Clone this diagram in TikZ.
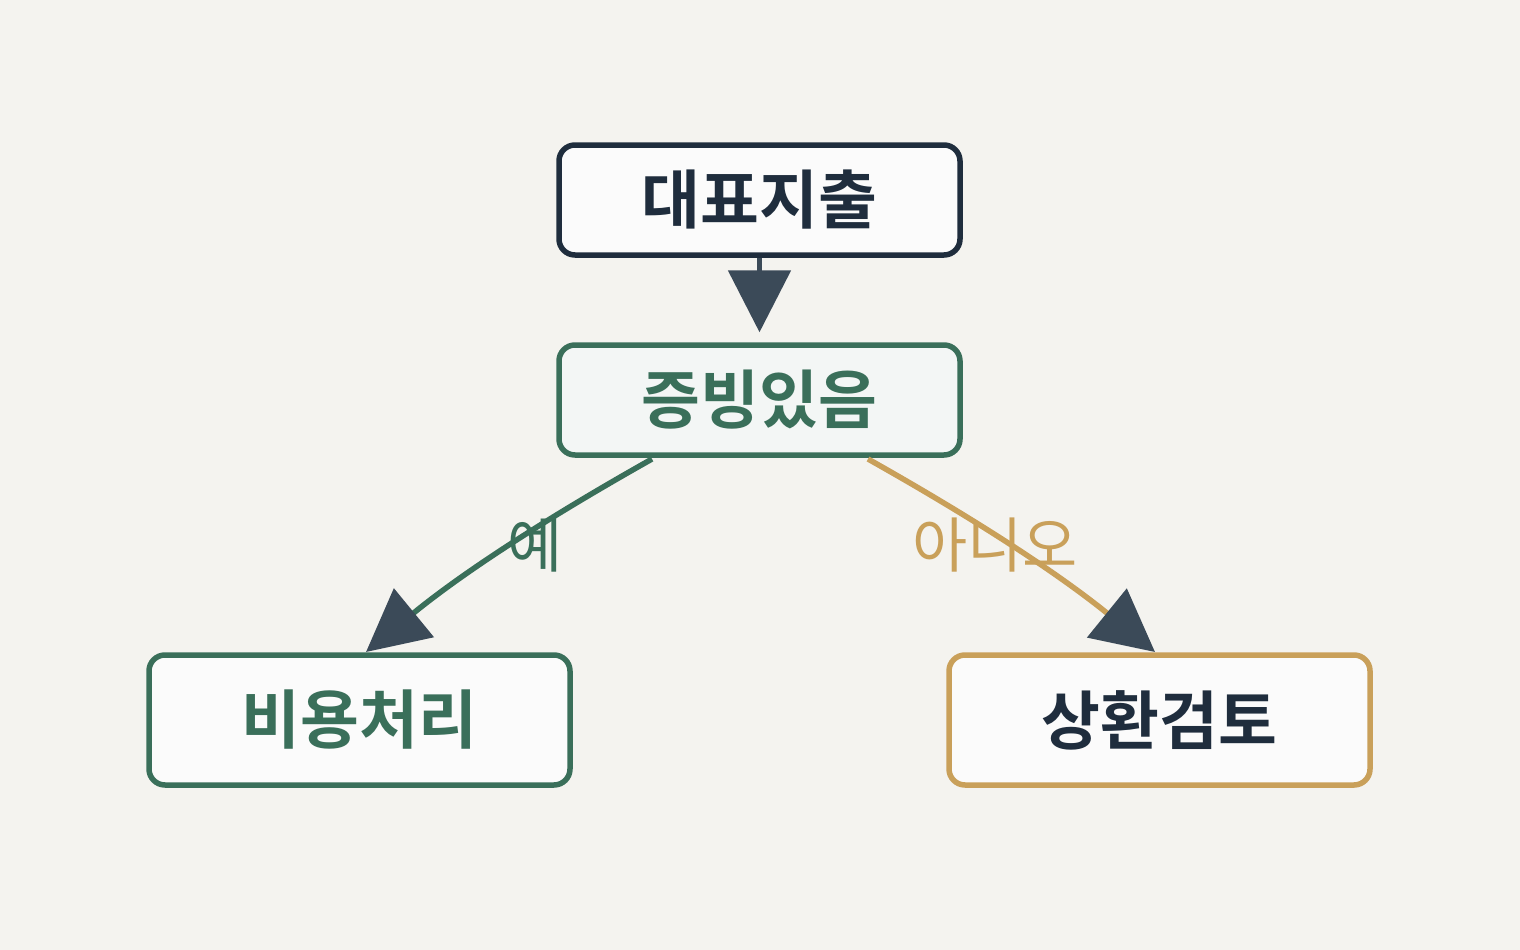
\documentclass[tikz,border=0pt]{standalone}
\usepackage{fontspec}
\setmainfont{Noto Sans CJK KR}[BoldFont={* Bold}]
\usetikzlibrary{arrows.meta}
\definecolor{bg}{HTML}{F4F3EF}
\definecolor{navy}{HTML}{1F2D3D}
\definecolor{grn}{HTML}{3A6F5A}
\definecolor{tan}{HTML}{C9A05A}
\definecolor{arr}{HTML}{3B4A58}
\begin{document}
\begin{tikzpicture}[x=1pt,y=-1pt,
 box/.style={draw,line width=5.5pt,rounded corners=16pt,font=\bfseries\fontsize{64}{70}\selectfont,inner sep=0pt},
 conn/.style={line width=5.5pt,-{Triangle[length=62pt,width=62pt,fill=arr,color=arr]}}]
\fill[bg] (0,0) rectangle (1520,950);
\useasboundingbox (0,0) rectangle (1520,950);
\node[box,draw=navy,fill=white!97!gray,text=navy,minimum width=401pt,minimum height=110pt] (a) at (759.5,200) {대표지출};
\node[box,draw=grn,fill=grn!6!white,text=grn,minimum width=401pt,minimum height=110pt] (b) at (759.5,400) {증빙있음};
\node[box,draw=grn,fill=white!97!gray,text=grn,minimum width=421pt,minimum height=130pt] (c) at (359.5,720) {비용처리};
\node[box,draw=tan,fill=white!97!gray,text=navy,minimum width=421pt,minimum height=130pt] (d) at (1159.5,720) {상환검토};
\coordinate (bl) at (652,459);
\coordinate (br) at (868,459);
\coordinate (cl) at (366,652);
\coordinate (dr) at (1155,652);
\draw[conn,arr] (a.south) -- ([yshift=10pt]b.north);
\draw[conn,grn] (bl) .. controls (540,522) and (460,575) .. (cl);
\draw[conn,tan] (br) .. controls (980,522) and (1060,575) .. (dr);
\node[text=grn,font=\fontsize{60}{66}\selectfont] (ly) at (535,545) {예};
\node[text=tan,font=\fontsize{60}{66}\selectfont] (ln) at (995,545) {아니오};
\end{tikzpicture}
\end{document}
